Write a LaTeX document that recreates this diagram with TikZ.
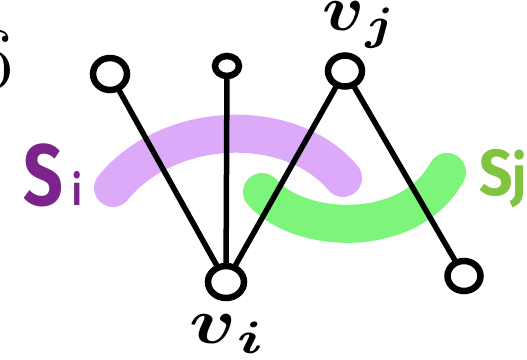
\documentclass[tikz,border=0pt]{standalone}
\usepackage{fontspec}
\usepackage{amsmath}
\newfontfamily\hand{Fira Sans}
\usetikzlibrary{shapes.geometric}
\pgfdeclarelayer{bands}
\pgfdeclarelayer{edges}
\pgfsetlayers{bands,edges,main}
\definecolor{sipurple}{RGB}{122,36,140}
\definecolor{sjgreen}{RGB}{128,196,66}
\definecolor{bandpurple}{RGB}{221,170,250}
\definecolor{bandgreen}{RGB}{125,245,122}
\tikzset{
  vert/.style={ellipse, draw=black, line width=6.5pt, fill=white, inner sep=0pt},
  conn/.style={line width=5.5pt, line cap=round},
  band/.style={line width=38pt, line cap=round},
  labl/.style={inner sep=0pt}
}
\begin{document}
\begin{tikzpicture}[x=1pt,y=-1pt]
\useasboundingbox (0,0) rectangle (527,359);
\node[vert, minimum width=34pt, minimum height=32pt] (a) at (110,74) {};
\node[vert, minimum width=24pt, minimum height=20pt] (b) at (227,66) {};
\node[vert, minimum width=34pt, minimum height=31pt] (c) at (345,71) {};
\node[vert, minimum width=36pt, minimum height=32pt] (d) at (226,282) {};
\node[vert, minimum width=33pt, minimum height=30pt] (e) at (464,276) {};
\begin{pgfonlayer}{bands}
\draw[band, bandpurple] (113,188) .. controls (168,120) and (290,115) .. (343,178);
\draw[band, bandgreen] (262,192) .. controls (300,235) and (410,240) .. (447,172);
\end{pgfonlayer}
\begin{pgfonlayer}{edges}
\draw[conn] (a) -- (d);
\draw[conn] (b) -- (d);
\draw[conn] (c) -- (d);
\draw[conn] (c) -- (e);
\end{pgfonlayer}
\node[labl, xscale=7, yscale=6.5] (vj) at (360,25) {$\boldsymbol{v}_{\boldsymbol{j}}$};
\node[labl, xscale=7.8, yscale=6.5] (vi) at (228,334) {$\boldsymbol{v}_{\boldsymbol{i}}$};
\node[labl, anchor=base west, text=sipurple, xscale=0.8] (si) at (23,205) {\hand\bfseries\fontsize{87}{87}\selectfont S\hspace{12pt}\fontsize{42}{42}\selectfont i};
\node[labl, anchor=base west, text=sjgreen, xscale=0.9] (sj) at (479,195) {\hand\bfseries\fontsize{65}{65}\selectfont S\fontsize{56}{56}\selectfont j};
\node[labl, anchor=south east] (six) at (14,90) {\fontsize{88}{88}\selectfont 6};
\end{tikzpicture}
\end{document}
